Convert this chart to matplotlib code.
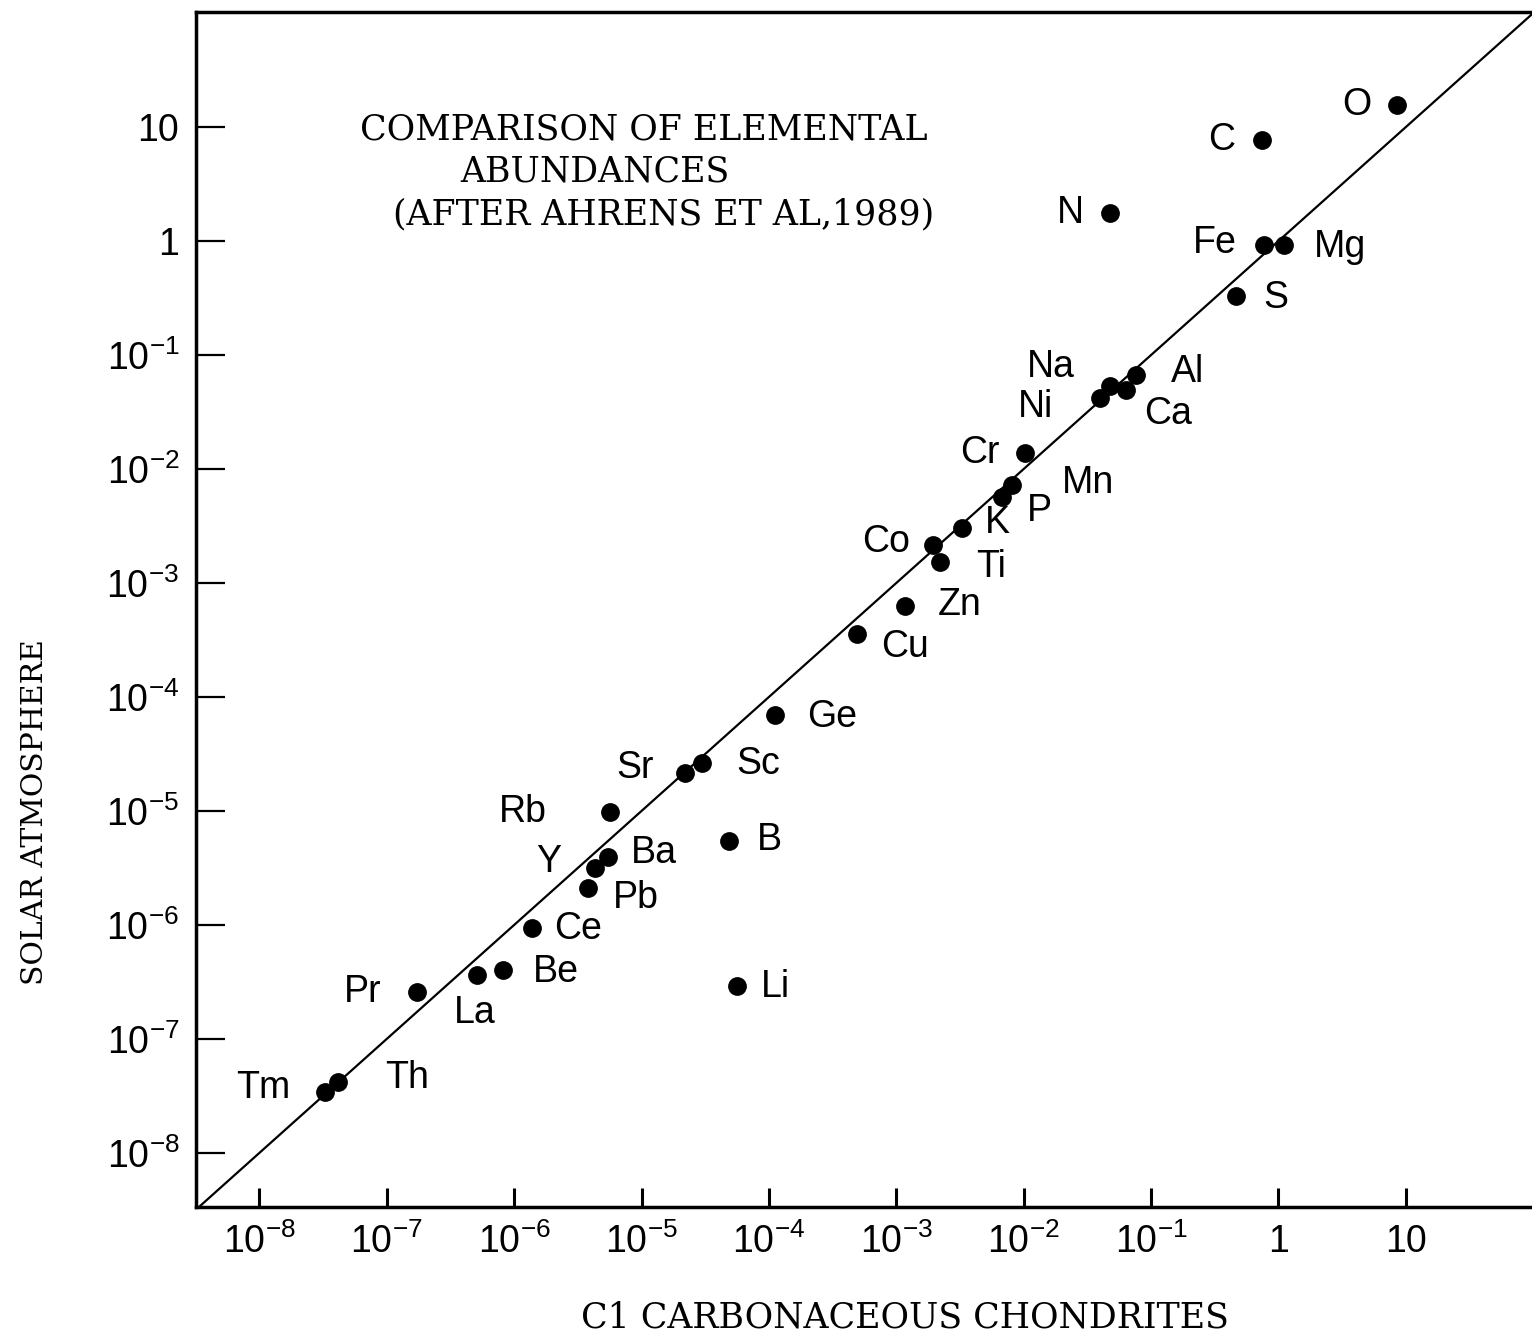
import numpy as np
import matplotlib.pyplot as plt

plt.rcParams['mathtext.fontset'] = 'custom'
plt.rcParams['mathtext.rm'] = 'Liberation Sans'
plt.rcParams['mathtext.it'] = 'Liberation Sans'
plt.rcParams['mathtext.bf'] = 'Liberation Sans'

# element abundances (relative)
elements = ['O', 'C', 'N', 'Fe', 'Mg', 'S', 'Na', 'Al', 'Ca', 'Ni',
            'Cr', 'Mn', 'P', 'K', 'Co', 'Ti', 'Zn', 'Cu', 'Ge', 'Sc',
            'Sr', 'Rb', 'B', 'Ba', 'Y', 'Pb', 'Ce', 'Be', 'La', 'Li',
            'Pr', 'Th', 'Tm']
ci_chondrites = [8.5, 0.74, 0.048, 0.77, 1.10, 0.46, 0.048, 0.076, 0.0635, 0.0397,
                 0.0102, 0.00807, 0.00674, 0.00327, 0.00194, 0.0022, 0.00117, 4.91e-4, 1.11e-4, 2.98e-5,
                 2.19e-5, 5.65e-6, 4.85e-5, 5.45e-6, 4.31e-6, 3.8e-6, 1.38e-6, 8.15e-7, 5.09e-7, 5.6e-5,
                 1.73e-7, 4.14e-8, 3.27e-8]
solar_atmosphere = [15.6, 7.7, 1.76, 0.92, 0.92, 0.33, 0.0535, 0.0668, 0.0493, 0.042,
                    0.0138, 0.00724, 0.00568, 0.00304, 0.00215, 0.00153, 6.28e-4, 3.57e-4, 6.95e-5, 2.64e-5,
                    2.15e-5, 9.8e-6, 5.46e-6, 3.95e-6, 3.16e-6, 2.11e-6, 9.4e-7, 4.03e-7, 3.64e-7, 2.92e-7,
                    2.58e-7, 4.2e-8, 3.43e-8]

tick_vals = [1e-8, 1e-7, 1e-6, 1e-5, 1e-4, 1e-3, 1e-2, 1e-1, 1, 10]
tick_labels = [r'$\mathregular{10^{-8}}$', r'$\mathregular{10^{-7}}$', r'$\mathregular{10^{-6}}$',
               r'$\mathregular{10^{-5}}$', r'$\mathregular{10^{-4}}$', r'$\mathregular{10^{-3}}$',
               r'$\mathregular{10^{-2}}$', r'$\mathregular{10^{-1}}$', '1', '10']

# label placement (pixels from the dot)
label_offsets = {
    'O': (-40, 0), 'C': (-40, 0), 'N': (-40, 0), 'Fe': (-49, 2), 'Mg': (56, -2),
    'S': (40, -2), 'Na': (-60, 19), 'Al': (52, 3), 'Ca': (42, -24), 'Ni': (-64, -9),
    'Cr': (-45, 0), 'Mn': (76, 2), 'P': (38, -14), 'K': (36, 5), 'Co': (-47, 3),
    'Ti': (51, -5), 'Zn': (55, 1), 'Cu': (48, -13), 'Ge': (57, -2), 'Sc': (56, -1),
    'Sr': (-50, 5), 'Rb': (-87, 0), 'B': (41, 1), 'Ba': (46, 4), 'Y': (-46, 6),
    'Pb': (48, -10), 'Ce': (46, -1), 'Be': (53, -2), 'La': (-2, -38), 'Li': (39, -1),
    'Pr': (-54, 0), 'Th': (69, 4), 'Tm': (-62, 4),
}

W, H = 1532, 1336
fig = plt.figure(figsize=(W / 100, H / 100), dpi=100)
ax = fig.add_axes([196 / W, 1 - 1207 / H, 1 - 196 / W, (1207 - 12) / H])
ax.set_xscale('log')
ax.set_yscale('log')
ax.set_xlim(10 ** -8.497, 10 ** 1.99)
ax.set_ylim(10 ** -8.474, 10 ** 2.009)

# 1:1 line
ax.plot([10 ** -8.6, 10 ** 2.1], [10 ** -8.6, 10 ** 2.1], color='black', linewidth=1.6)
ax.plot(ci_chondrites, solar_atmosphere, 'o', color='black', markersize=12.5)

for el, x, y in zip(elements, ci_chondrites, solar_atmosphere):
    dx, dy = label_offsets[el]
    ax.annotate(el, (x, y), xytext=(dx, dy), textcoords='offset pixels',
                ha='center', va='center', fontsize=27, family='Liberation Sans')

ax.set_xticks(tick_vals)
ax.set_xticklabels(tick_labels)
ax.set_yticks(tick_vals)
ax.set_yticklabels(tick_labels)
ax.minorticks_off()
ax.tick_params(axis='x', direction='in', length=14, width=2.2, pad=12, labelsize=27)
ax.tick_params(axis='y', direction='in', length=21, width=1.6, pad=12, labelsize=27)
for lab in ax.get_xticklabels() + ax.get_yticklabels():
    lab.set_family('Liberation Sans')

for side in ['left', 'bottom', 'top']:
    ax.spines[side].set_linewidth(2.5)
ax.spines['right'].set_visible(False)

serif = 'DejaVu Serif'
fig.text(360 / W, 1 - 129 / H, 'COMPARISON OF ELEMENTAL', ha='left', va='center',
         fontsize=25, family=serif)
fig.text(460 / W, 1 - 172 / H, 'ABUNDANCES', ha='left', va='center',
         fontsize=25, family=serif)
fig.text(393 / W, 1 - 214 / H, '(AFTER AHRENS ET AL,1989)', ha='left', va='center',
         fontsize=25, family=serif)

fig.text(905 / W, 1 - 1318 / H, 'C1 CARBONACEOUS CHONDRITES', ha='center', va='center',
         fontsize=25, family=serif)
fig.text(35 / W, 1 - 812 / H, 'SOLAR ATMOSPHERE', ha='center', va='center',
         rotation=90, fontsize=21.5, family=serif)

fig.savefig('out.png', dpi=100)
